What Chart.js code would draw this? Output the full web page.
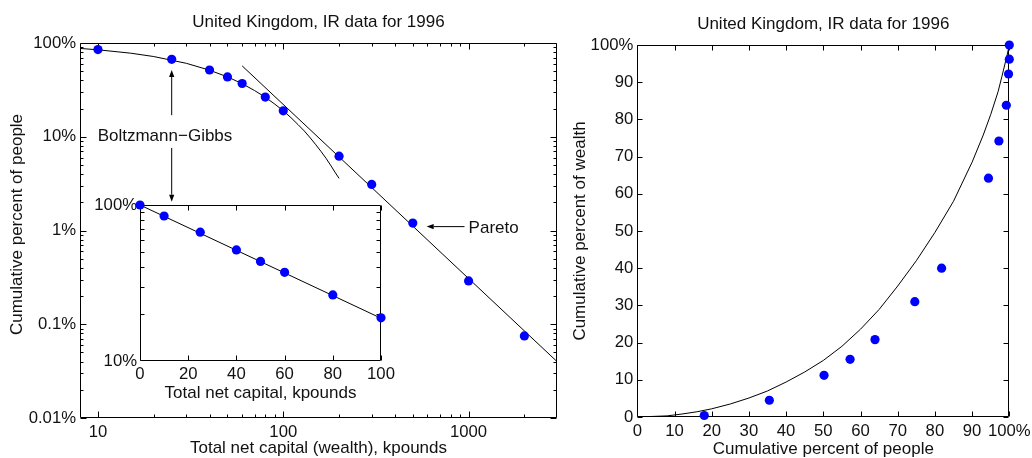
<!DOCTYPE html>
<html>
<head>
<meta charset="utf-8">
<script src="https://cdn.jsdelivr.net/npm/chart.js@4.4.1/dist/chart.umd.min.js"></script>
<style>
  html, body { margin: 0; padding: 0; background: #fff; }
  #wrap { position: relative; width: 1032px; height: 458px; overflow: hidden; background: #fff; }
  canvas { position: absolute; }
</style>
</head>
<body>
<div id="wrap">
  <canvas id="cdf" width="570" height="458" style="left:0;top:0"></canvas>
  <canvas id="lorenz" width="472" height="458" style="left:560px;top:0"></canvas>
  <canvas id="inset" width="310" height="215" style="left:90px;top:190px"></canvas>
</div>
<script>
// ---- Data: UK Inland Revenue wealth distribution, 1996 ----

// Cumulative percent of people with total net capital above each level (kpounds)
const capitalK  = [10, 25, 40, 50, 60, 80, 100, 200, 300, 500, 1000, 2000];
const peoplePct = [85, 67, 51.5, 43.5, 37, 26.5, 18.9, 6.2, 3.1, 1.2, 0.29, 0.075];

// Inset adds the origin point (everyone has capital >= 0)
const insetCapitalK  = [0, 10, 25, 40, 50, 60, 80, 100];
const insetPeoplePct = [100, 85, 67, 51.5, 43.5, 37, 26.5, 18.9];

// Boltzmann-Gibbs (exponential) fit
const bgCapitalK  = [8, 10, 15, 20, 30, 40, 50, 60, 70, 80, 90, 100, 110, 120, 130, 140, 150, 160, 170, 180, 190, 200];
const bgPeoplePct = [87.5, 84.6, 77.9, 71.7, 60.7, 51.3, 43.5, 36.8, 31.1, 26.4, 22.3, 18.9, 16.0, 13.5,
                     11.5, 9.7, 8.2, 6.95, 5.9, 4.98, 4.2, 3.6];

// Inset exponential fit (a straight line on the semi-log axes)
const insetFitK   = [0, 100];
const insetFitPct = [100, 18.8];

// Pareto (power-law) fit, a straight line on log-log axes
const paretoCapitalK  = [60, 3000];
const paretoPeoplePct = [57, 0.04];

// Lorenz curve: cumulative percent of people vs cumulative percent of wealth
const lorenzPeoplePct = [18, 35.5, 50.2, 57.2, 63.9, 74.6, 81.8, 94.4, 97.2, 99.2, 99.8, 100, 100];
const lorenzWealthPct = [0.4, 4.5, 11.2, 15.5, 20.8, 31, 40, 64.2, 74.2, 83.8, 92.2, 96.2, 100];

// Lorenz curve implied by the exponential distribution
const expLorenzPeople = [0, 8, 12, 16, 20, 25, 30, 35, 40, 45, 50, 55, 60, 65, 70, 75, 80, 85, 90, 93, 95, 97, 98, 99.3, 100];
const expLorenzWealth = [0, 0.3, 0.8, 1.4, 2.2, 3.5, 5.1, 7.0, 9.4, 12.1, 15.2, 19.0, 23.6, 28.9, 35.2, 42.0,
                         49.6, 58.0, 68.5, 75.8, 81.3, 87.5, 91.5, 96.8, 100];

// Tick values and labels
const cdfXTicks = [10, 100, 1000];
const cdfXLabels = ['10', '100', '1000'];
const cdfYTicks = [0.01, 0.1, 1, 10, 100];
const cdfYLabels = ['0.01%', '0.1%', '1%', '10%', '100%'];
const cdfXMinor = [20, 30, 40, 50, 60, 70, 80, 90, 200, 300, 400, 500, 600, 700, 800, 900, 2000];
const cdfYMinor = [0.02, 0.03, 0.04, 0.05, 0.06, 0.07, 0.08, 0.09,
                   0.2, 0.3, 0.4, 0.5, 0.6, 0.7, 0.8, 0.9,
                   2, 3, 4, 5, 6, 7, 8, 9,
                   20, 30, 40, 50, 60, 70, 80, 90];

const insetXTicks = [0, 20, 40, 60, 80, 100];
const insetXLabels = ['0', '20', '40', '60', '80', '100'];
const insetYTicks = [10, 100];
const insetYLabels = ['10%', '100%'];
const insetYMinor = [20, 30, 40, 50, 60, 70, 80, 90];

const lorenzTicks = [0, 10, 20, 30, 40, 50, 60, 70, 80, 90, 100];
const lorenzXLabels = ['0', '10', '20', '30', '40', '50', '60', '70', '80', '90', '100%'];
const lorenzYLabels = ['0', '10', '20', '30', '40', '50', '60', '70', '80', '90', '100%'];

// ---- Styling ----
const FONT = '"Liberation Sans", Arial, Helvetica, sans-serif';
const FS = 16.7;
const TS = 17;
const INK = '#111';
const DOT = '#0000ff';

Chart.defaults.font.family = FONT;
Chart.defaults.font.size = FS;
Chart.defaults.color = INK;

const pts = (xs, ys) => xs.map((x, i) => ({ x, y: ys[i] }));

// Box around the plot area plus inward tick marks on all four sides
const frameTicks = {
  id: 'frameTicks',
  beforeDatasetsDraw(chart, args, o) {
    const { ctx, chartArea: a, scales } = chart;
    const L = Math.round(a.left) + 0.5, R = Math.round(a.right) - 0.5;
    const T = Math.round(a.top) + 0.5, B = Math.round(a.bottom) - 0.5;
    ctx.save();
    ctx.strokeStyle = '#000';
    ctx.lineWidth = 1;
    ctx.beginPath();
    const xt = (vals, len) => vals.forEach(v => {
      const p = Math.round(scales.x.getPixelForValue(v)) + 0.5;
      ctx.moveTo(p, B); ctx.lineTo(p, B - len);
      ctx.moveTo(p, T); ctx.lineTo(p, T + len);
    });
    const yt = (vals, len) => vals.forEach(v => {
      const p = Math.round(scales.y.getPixelForValue(v)) + 0.5;
      ctx.moveTo(L, p); ctx.lineTo(L + len, p);
      ctx.moveTo(R, p); ctx.lineTo(R - len, p);
    });
    xt(o.xMajor || [], o.majorLen);
    xt(o.xMinor || [], o.minorLen);
    yt(o.yMajor || [], o.majorLen);
    yt(o.yMinor || [], o.minorLen);
    ctx.rect(L, T, R - L, B - T);
    ctx.stroke();
    ctx.restore();
  }
};

// Panel title and axis titles, placed relative to the plot area
const panelText = {
  id: 'panelText',
  afterDraw(chart, args, o) {
    const { ctx, chartArea: a } = chart;
    ctx.save();
    ctx.fillStyle = INK;
    ctx.font = `${TS}px ${FONT}`;
    ctx.textAlign = 'center';
    ctx.textBaseline = 'middle';
    const cx = (a.left + a.right) / 2;
    if (o.title) ctx.fillText(o.title, cx + (o.titleDx || 0), a.top + o.titleDy);
    if (o.xTitle) ctx.fillText(o.xTitle, cx + (o.xTitleDx || 0), a.bottom + o.xTitleDy);
    if (o.yTitle) {
      ctx.translate(a.left + o.yTitleDx, (a.top + a.bottom) / 2 + (o.yTitleDy || 0));
      ctx.rotate(-Math.PI / 2);
      ctx.fillText(o.yTitle, 0, 0);
    }
    ctx.restore();
  }
};

// Arrows and labels placed in data coordinates
const callouts = {
  id: 'callouts',
  afterDatasetsDraw(chart, args, o) {
    const { ctx, scales: { x, y } } = chart;
    ctx.save();
    ctx.strokeStyle = '#000';
    ctx.fillStyle = '#000';
    ctx.lineWidth = 1;
    (o.arrows || []).forEach(ar => {
      const x1 = x.getPixelForValue(ar.from[0]), y1 = y.getPixelForValue(ar.from[1]);
      const x2 = x.getPixelForValue(ar.to[0]),   y2 = y.getPixelForValue(ar.to[1]);
      const ang = Math.atan2(y2 - y1, x2 - x1);
      const hl = 7, hw = 2.6;
      ctx.beginPath();
      ctx.moveTo(x1, y1);
      ctx.lineTo(x2 - hl * Math.cos(ang), y2 - hl * Math.sin(ang));
      ctx.stroke();
      ctx.beginPath();
      ctx.moveTo(x2, y2);
      ctx.lineTo(x2 - hl * Math.cos(ang) - hw * Math.sin(ang), y2 - hl * Math.sin(ang) + hw * Math.cos(ang));
      ctx.lineTo(x2 - hl * Math.cos(ang) + hw * Math.sin(ang), y2 - hl * Math.sin(ang) - hw * Math.cos(ang));
      ctx.closePath();
      ctx.fill();
    });
    ctx.fillStyle = INK;
    ctx.font = `${TS}px ${FONT}`;
    ctx.textBaseline = 'middle';
    (o.labels || []).forEach(lb => {
      ctx.textAlign = lb.align;
      ctx.fillText(lb.text, x.getPixelForValue(lb.at[0]), y.getPixelForValue(lb.at[1]));
    });
    ctx.restore();
  }
};

const dotSet = (data) => ({
  data, backgroundColor: DOT, borderColor: DOT, borderWidth: 0,
  pointRadius: 4.6, pointHoverRadius: 4.6, clip: false, order: 0
});
const lineSet = (data) => ({
  data, showLine: true, borderColor: '#000', borderWidth: 1,
  pointRadius: 0, pointHoverRadius: 0, tension: 0, order: 1
});

function axis(type, min, max, ticks, labels, fixSize, pad) {
  return {
    type, min, max,
    afterBuildTicks: s => { s.ticks = ticks.map(v => ({ value: v })); },
    afterFit: s => {
      if (s.isHorizontal()) { s.height = fixSize; s.paddingLeft = 0; s.paddingRight = 0; }
      else { s.width = fixSize; s.paddingTop = 0; s.paddingBottom = 0; }
    },
    ticks: {
      autoSkip: false, maxRotation: 0, minRotation: 0, padding: pad,
      callback: (v, i) => labels[i]
    },
    grid: { display: false, drawTicks: false },
    border: { display: false },
    title: { display: false }
  };
}

const common = {
  responsive: false,
  animation: false,
  events: [],
  devicePixelRatio: 1
};

// ---- Left panel: cumulative distribution on log-log axes ----
new Chart(document.getElementById('cdf'), {
  type: 'scatter',
  data: {
    datasets: [
      dotSet(pts(capitalK, peoplePct)),
      lineSet(pts(bgCapitalK, bgPeoplePct)),
      lineSet(pts(paretoCapitalK, paretoPeoplePct))
    ]
  },
  options: {
    ...common,
    layout: { padding: { left: 0, top: 43, right: 13, bottom: 0 } },
    scales: {
      x: axis('logarithmic', 8, 3000, cdfXTicks, cdfXLabels, 40, 4),
      y: axis('logarithmic', 0.01, 100, cdfYTicks, cdfYLabels, 80, 4)
    },
    plugins: {
      legend: { display: false },
      tooltip: { enabled: false },
      frameTicks: { xMajor: cdfXTicks, xMinor: cdfXMinor, yMajor: cdfYTicks, yMinor: cdfYMinor, majorLen: 6, minorLen: 3 },
      panelText: {
        title: 'United Kingdom, IR data for 1996', titleDy: -21,
        xTitle: 'Total net capital (wealth), kpounds', xTitleDy: 30,
        yTitle: 'Cumulative percent of people', yTitleDx: -63, yTitleDy: -6
      },
      callouts: {
        arrows: [
          { from: [25, 17], to: [25, 51.6] },
          { from: [25, 7.6], to: [25, 2.03] },
          { from: [951, 1.1], to: [594, 1.1] }
        ],
        labels: [
          { text: 'Boltzmann\u2212Gibbs', at: [23, 10], align: 'center' },
          { text: 'Pareto', at: [1000, 1.06], align: 'left' }
        ]
      }
    }
  },
  plugins: [frameTicks, panelText, callouts]
});

// ---- Inset: the low-wealth part on semi-log axes ----
new Chart(document.getElementById('inset'), {
  type: 'scatter',
  data: {
    datasets: [
      dotSet(pts(insetCapitalK, insetPeoplePct)),
      lineSet(pts(insetFitK, insetFitPct))
    ]
  },
  options: {
    ...common,
    layout: { padding: { left: 0, top: 15, right: 19, bottom: 0 } },
    scales: {
      x: axis('linear', 0, 100, insetXTicks, insetXLabels, 44, 3),
      y: axis('logarithmic', 10, 100, insetYTicks, insetYLabels, 50, 3)
    },
    plugins: {
      legend: { display: false },
      tooltip: { enabled: false },
      frameTicks: { xMajor: insetXTicks, yMinor: insetYMinor, majorLen: 5, minorLen: 4 },
      panelText: { xTitle: 'Total net capital, kpounds', xTitleDy: 32 }
    }
  },
  plugins: [frameTicks, panelText]
});

// ---- Right panel: Lorenz curve ----
new Chart(document.getElementById('lorenz'), {
  type: 'scatter',
  data: {
    datasets: [
      dotSet(pts(lorenzPeoplePct, lorenzWealthPct)),
      lineSet(pts(expLorenzPeople, expLorenzWealth))
    ]
  },
  options: {
    ...common,
    layout: { padding: { left: 0, top: 45, right: 22.7, bottom: 0 } },
    scales: {
      x: axis('linear', 0, 100, lorenzTicks, lorenzXLabels, 41, 4),
      y: axis('linear', 0, 100, lorenzTicks, lorenzYLabels, 77.3, 4)
    },
    plugins: {
      legend: { display: false },
      tooltip: { enabled: false },
      frameTicks: { xMajor: lorenzTicks, yMajor: lorenzTicks, majorLen: 5, minorLen: 3 },
      panelText: {
        title: 'United Kingdom, IR data for 1996', titleDy: -21,
        xTitle: 'Cumulative percent of people', xTitleDy: 32,
        yTitle: 'Cumulative percent of wealth', yTitleDx: -57
      }
    }
  },
  plugins: [frameTicks, panelText]
});
</script>
</body>
</html>
